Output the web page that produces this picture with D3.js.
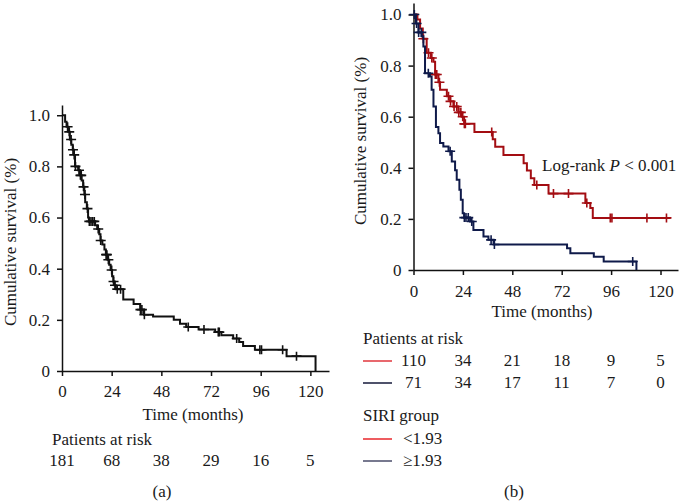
<!DOCTYPE html>
<html>
<head>
<meta charset="utf-8">
<script src="https://cdn.jsdelivr.net/npm/d3@7"></script>
<style>
  body { margin: 0; background: #fff; }
  svg text { font-family: "Liberation Serif", "DejaVu Serif", serif; font-size: 17px; fill: #1a1a1a; }
</style>
</head>
<body>
<div id="svg-container"></div>
<script>
////////////////////////////  Data  ////////////////////////////
const months = [0, 24, 48, 72, 96, 120];
const survTicks = [0, 0.2, 0.4, 0.6, 0.8, 1.0];

// (a) all patients : [month, survival after the drop]
const allSteps = [[0,1.0],[1.5,0.975],[2.2,0.955],[3.0,0.935],[3.8,0.905],[4.5,0.885],[5.2,0.865],[5.8,0.845],
  [6.3,0.80],[7.8,0.785],[8.7,0.765],[9.5,0.745],[10.2,0.72],[10.8,0.69],[11.2,0.66],[12.0,0.635],[12.6,0.60],
  [13.0,0.585],[16.0,0.57],[17.0,0.555],[18.0,0.535],[18.6,0.51],[19.5,0.495],[20.5,0.475],[21.2,0.455],
  [22.0,0.435],[22.8,0.415],[23.5,0.395],[24.2,0.37],[24.8,0.35],[25.3,0.335],[26.0,0.32],[29.6,0.28],
  [34.6,0.262],[37.8,0.24],[39.6,0.22],[44.0,0.213],[54.0,0.20],[57.0,0.185],[60.0,0.172],[66.0,0.162],
  [74.0,0.152],[77.0,0.14],[82.7,0.127],[85.6,0.113],[87.5,0.098],[93.2,0.083],[108.5,0.058],[122.5,0]];
const allCensor = [2.7,3.5,4.4,5.3,5.9,6.5,8.2,8.9,9.3,10.4,11.1,12.3,13.2,14.0,14.8,15.6,17.5,18.7,
  21.3,21.7,22.4,24.0,24.9,25.6,26.7,28.3,37.9,38.6,39.8,61.0,68.6,75.5,76.0,84.4,95.6,96.4,106.6,113.3];
const allEnd = 122.5;
const riskAll = [181, 68, 38, 29, 16, 5];

// (b) SIRI < 1.93
const lowSteps = [[0,1.0],[1.9,0.98],[3.2,0.945],[4.5,0.905],[6.4,0.85],[8.4,0.83],[9.7,0.815],[10.5,0.765],
  [12.1,0.735],[12.9,0.705],[16.2,0.68],[17.8,0.66],[19.4,0.64],[21.8,0.617],[23.4,0.6],[24.6,0.572],
  [29.6,0.54],[38.5,0.512],[39.7,0.482],[43.7,0.45],[53.5,0.418],[55.1,0.389],[57.0,0.359],[58.7,0.333],
  [65.6,0.299],[83.5,0.262],[85.9,0.243],[87.1,0.204]];
const lowCensor = [4.8,7.3,8.9,10.6,11.3,12.6,17.0,18.0,19.7,21.0,22.0,23.0,23.9,24.7,25.2,38.0,59.9,
  68.0,75.3,84.2,95.6,96.4,113.4,122.9];
const lowEnd = 124.9;
const riskLow = [110, 34, 21, 18, 9, 5];

// (b) SIRI >= 1.93
const highSteps = [[0,1.0],[1.2,0.965],[2.4,0.93],[4.0,0.915],[4.8,0.875],[5.6,0.77],[8.0,0.757],[8.8,0.705],
  [9.7,0.64],[10.9,0.56],[12.1,0.535],[12.9,0.497],[14.5,0.483],[17.0,0.465],[18.6,0.425],[20.2,0.39],
  [21.0,0.353],[22.3,0.314],[23.0,0.275],[23.9,0.222],[24.6,0.205],[27.5,0.19],[29.1,0.157],[34.0,0.131],
  [36.4,0.118],[38.9,0.1],[74.6,0.085],[76.2,0.066],[87.6,0.052],[92.4,0.033],[108.3,0]];
const highCensor = [0.4,1.5,2.5,3.8,7.2,17.8,24.7,25.5,26.6,28.3,37.7,39.3,106.5];
const highEnd = 108.3;
const riskHigh = [71, 34, 17, 11, 7, 0];

const groupLabels = ["<1.93", "\u22651.93"];

////////////////////////////  Init  ////////////////////////////
const svg = d3.select("#svg-container").append("svg")
  .attr("width", 681).attr("height", 501);

const fmt = (d) => (d === 0 ? "0" : d3.format(".1f")(d));

// survival at time t from a step list
function survAt(steps, t) {
  let s = steps[0][1];
  steps.forEach((p) => { if (p[0] <= t) s = p[1]; });
  return s;
}

function drawAxes(g, x, y, y0, padX) {
  const ax = g.append("g").attr("transform", `translate(0,${y0})`)
    .call(d3.axisBottom(x).tickValues(months).tickSize(5).tickSizeOuter(0).tickPadding(padX));
  const ay = g.append("g").attr("transform", `translate(${x(0)},0)`)
    .call(d3.axisLeft(y).tickValues(survTicks).tickFormat(fmt).tickSize(5).tickSizeOuter(0).tickPadding(7));
  [ax, ay].forEach((a) => {
    a.selectAll("path, line").attr("stroke", "#111").attr("stroke-width", 1.5);
    a.selectAll("text").attr("font-family", null).attr("font-size", null).attr("fill", "#1a1a1a");
  });
}

function drawCurve(g, x, y, steps, censor, end, color) {
  const pts = steps.slice();
  const last = pts[pts.length - 1];
  if (last[0] < end) pts.push([end, last[1]]);
  const line = d3.line().x((d) => x(d[0])).y((d) => y(d[1])).curve(d3.curveStepAfter);
  g.append("path").datum(pts).attr("d", line)
    .attr("fill", "none").attr("stroke", color).attr("stroke-width", 2);
  g.selectAll(null).data(censor).join("path")
    .attr("d", (t) => {
      const cx = x(t), cy = y(survAt(steps, t));
      return `M${cx - 5},${cy}h10M${cx},${cy - 4.5}v9`;
    })
    .attr("fill", "none").attr("stroke", color).attr("stroke-width", 1.6);
}

////////////////////////////  Panel (a)  ////////////////////////////
const xA = d3.scaleLinear().domain([0, 129]).range([62, 329]);
const yA = d3.scaleLinear().domain([0, 1.04]).range([371, 105]);
const gA = svg.append("g");
drawAxes(gA, xA, yA, 371, 9);
drawCurve(gA, xA, yA, allSteps, allCensor, allEnd, "#111");

gA.append("text").attr("transform", "translate(16,242) rotate(-90)")
  .attr("text-anchor", "middle").text("Cumulative survival (%)");
gA.append("text").attr("x", 193).attr("y", 420).attr("text-anchor", "middle").text("Time (months)");
gA.append("text").attr("x", 52).attr("y", 445).text("Patients at risk");
gA.selectAll(".riskA").data(riskAll).join("text")
  .attr("x", (d, i) => xA(months[i])).attr("y", 466).attr("text-anchor", "middle").text((d) => d);
gA.append("text").attr("x", 162).attr("y", 497).attr("text-anchor", "middle").text("(a)");

////////////////////////////  Panel (b)  ////////////////////////////
const xB = d3.scaleLinear().domain([0, 128.5]).range([413.5, 678]);
const yB = d3.scaleLinear().domain([0, 1.045]).range([270, 3]);
const gB = svg.append("g");
drawAxes(gB, xB, yB, 270, 10);
drawCurve(gB, xB, yB, lowSteps, lowCensor, lowEnd, "#a30d12");
drawCurve(gB, xB, yB, highSteps, highCensor, highEnd, "#0f1a4a");

gB.append("text").attr("transform", "translate(366,141) rotate(-90)")
  .attr("text-anchor", "middle").text("Cumulative survival (%)");
gB.append("text").attr("x", 542).attr("y", 317).attr("text-anchor", "middle").text("Time (months)");

const lr = gB.append("text").attr("x", 542).attr("y", 171);
lr.append("tspan").text("Log-rank ");
lr.append("tspan").attr("font-style", "italic").text("P");
lr.append("tspan").text(" < 0.001");

gB.append("text").attr("x", 363).attr("y", 344).text("Patients at risk");
[[riskLow, 366, "#e0363c"], [riskHigh, 388, "#14183a"]].forEach(([vals, yy, c]) => {
  gB.append("line").attr("x1", 363).attr("x2", 392).attr("y1", yy - 5).attr("y2", yy - 5)
    .attr("stroke", c).attr("stroke-width", 1.5);
  gB.selectAll(null).data(vals).join("text")
    .attr("x", (d, i) => xB(months[i])).attr("y", yy).attr("text-anchor", "middle").text((d) => d);
});

gB.append("text").attr("x", 363).attr("y", 421).text("SIRI group");
[[groupLabels[0], 444, "#e8262b"], [groupLabels[1], 466, "#4a4d6a"]].forEach(([lab, yy, c]) => {
  gB.append("line").attr("x1", 363).attr("x2", 392).attr("y1", yy - 5).attr("y2", yy - 5)
    .attr("stroke", c).attr("stroke-width", 1.5);
  gB.append("text").attr("x", 403).attr("y", yy).text(lab);
});
gB.append("text").attr("x", 514).attr("y", 497).attr("text-anchor", "middle").text("(b)");
</script>
</body>
</html>
